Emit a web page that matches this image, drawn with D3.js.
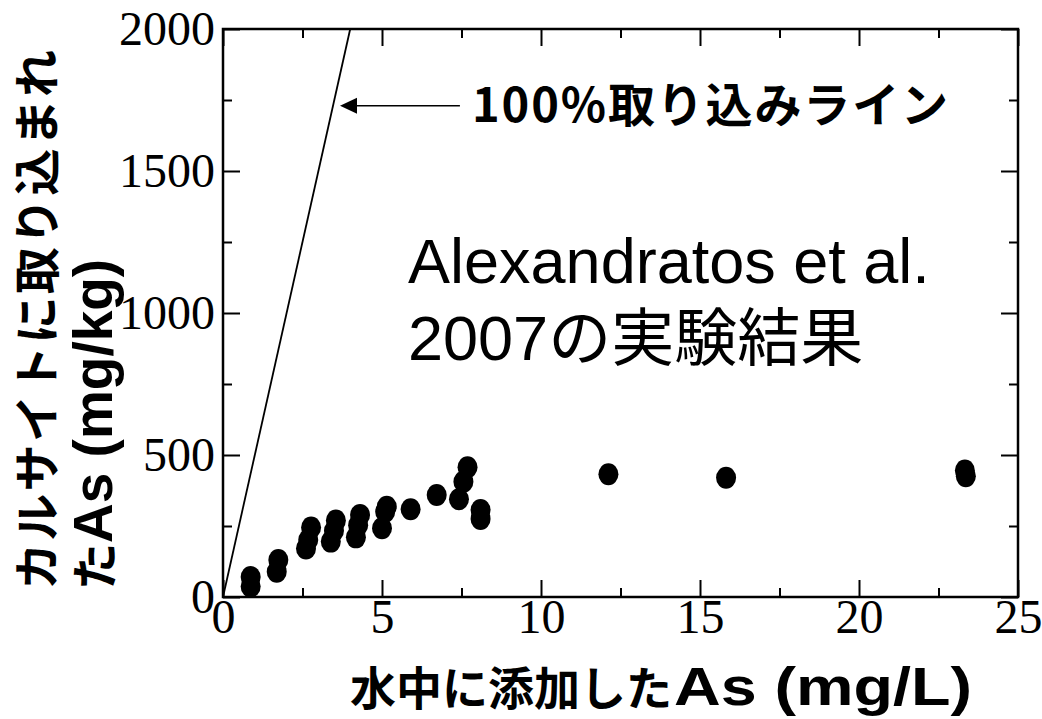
<!DOCTYPE html>
<html>
<head>
<meta charset="utf-8">
<script src="https://cdn.jsdelivr.net/npm/d3@7"></script>
<style>
  body { margin: 0; background: #fff; }
  svg { display: block; }
</style>
</head>
<body>
<svg></svg>
<script>
// data (x = mg/L added, y = mg/kg taken up)
var asAdded = [0.87, 0.87, 1.74, 1.69, 2.77, 2.68, 2.61, 3.55, 3.49, 3.39,
               4.31, 4.25, 4.18, 5.15, 5.1, 5.0, 5.9, 6.72, 7.69, 7.56, 7.42,
               8.1, 8.1, 12.12, 15.82, 23.33, 23.36];
var asCalcite = [70, 37, 130, 89, 245, 201, 171, 269, 233, 195,
                 289, 253, 210, 318, 300, 242, 309, 359, 457, 406, 344,
                 306, 275, 432, 420, 445, 425];
var xMajor = [0, 5, 10, 15, 20, 25];
var xMinor = [2.5, 7.5, 12.5, 17.5, 22.5];
var yMajor = [0, 500, 1000, 1500, 2000];
var yMinor = [250, 750, 1250, 1750];
// 100% uptake line: 500 mg/kg per mg/L
var fullLine = [[0, 0], [4, 2000]];

var width = 1042;
var height = 719;

var svg = d3.select("svg")
    .attr("width", width)
    .attr("height", height);

var x = d3.scaleLinear().domain([0, 25]).range([223, 1018]);
var y = d3.scaleLinear().domain([0, 2000]).range([597, 29]);

var serif = "'Liberation Serif', 'Times New Roman', serif";
var sans = "'Liberation Sans', Arial, 'Noto Sans CJK JP', sans-serif";
var jp = "'Noto Sans CJK JP', sans-serif";

function styleAxis(g) {
    g.select(".domain").remove();
    g.selectAll(".tick line").attr("stroke", "#000").attr("stroke-width", 2);
    g.selectAll(".tick text")
        .attr("fill", "#000")
        .style("font-family", serif)
        .style("font-size", "48px");
}

// major + minor ticks on all four sides, pointing inward
svg.append("g").attr("transform", "translate(0," + y(0) + ")")
    .call(d3.axisBottom(x).tickValues(xMajor).tickSize(-17).tickPadding(2).tickFormat(d3.format("d")))
    .call(styleAxis);
svg.append("g").attr("transform", "translate(0," + y(0) + ")")
    .call(d3.axisBottom(x).tickValues(xMinor).tickSize(-9).tickFormat(""))
    .call(styleAxis);
svg.append("g").attr("transform", "translate(0," + y(2000) + ")")
    .call(d3.axisTop(x).tickValues(xMajor).tickSize(-17).tickFormat(""))
    .call(styleAxis);
svg.append("g").attr("transform", "translate(0," + y(2000) + ")")
    .call(d3.axisTop(x).tickValues(xMinor).tickSize(-9).tickFormat(""))
    .call(styleAxis);
svg.append("g").attr("transform", "translate(" + x(0) + ",0)")
    .call(d3.axisLeft(y).tickValues(yMajor).tickSize(-17).tickPadding(8).tickFormat(d3.format("d")))
    .call(styleAxis);
svg.append("g").attr("transform", "translate(" + x(0) + ",0)")
    .call(d3.axisLeft(y).tickValues(yMinor).tickSize(-9).tickFormat(""))
    .call(styleAxis);
svg.append("g").attr("transform", "translate(" + x(25) + ",0)")
    .call(d3.axisRight(y).tickValues(yMajor).tickSize(-17).tickFormat(""))
    .call(styleAxis);
svg.append("g").attr("transform", "translate(" + x(25) + ",0)")
    .call(d3.axisRight(y).tickValues(yMinor).tickSize(-9).tickFormat(""))
    .call(styleAxis);

// frame
svg.append("rect")
    .attr("x", x(0)).attr("y", y(2000))
    .attr("width", x(25) - x(0)).attr("height", y(0) - y(2000))
    .attr("fill", "none").attr("stroke", "#000").attr("stroke-width", 2.5);

// 100% line
svg.append("path")
    .datum(fullLine)
    .attr("d", d3.line().x(d => x(d[0])).y(d => y(d[1])))
    .attr("fill", "none").attr("stroke", "#000").attr("stroke-width", 1.8);

// arrow pointing at the line
var arrowY = y(1730);
svg.append("line")
    .attr("x1", x(7.45)).attr("y1", arrowY)
    .attr("x2", x(3.9)).attr("y2", arrowY)
    .attr("stroke", "#000").attr("stroke-width", 1.5);
svg.append("path")
    .attr("d", "M" + x(3.68) + "," + arrowY + "l17,-8v16z")
    .attr("fill", "#000");

svg.append("text")
    .attr("x", x(7.83)).attr("y", arrowY + 16)
    .attr("textLength", 476).attr("lengthAdjust", "spacing")
    .style("font-family", jp).style("font-weight", "bold").style("font-size", "47px")
    .text("100%取り込みライン");

// points
svg.append("g").selectAll("ellipse")
    .data(asAdded.map((d, i) => [d, asCalcite[i]]))
    .join("ellipse")
    .attr("cx", d => x(d[0]))
    .attr("cy", d => y(d[1]))
    .attr("rx", 10)
    .attr("ry", 11)
    .attr("fill", "#000");

// inner annotation
svg.append("text")
    .attr("x", 408).attr("y", 283)
    .style("font-family", sans).style("font-size", "63px")
    .text("Alexandratos et al.");
svg.append("text")
    .attr("x", 408).attr("y", 360)
    .style("font-family", sans).style("font-size", "63px")
    .text("2007の実験結果");

// axis titles
var xt1 = svg.append("text")
    .attr("x", 350).attr("y", 705)
    .style("font-family", jp).style("font-weight", "bold").style("font-size", "46px")
    .text("水中に添加した");
var xEnd = 350 + xt1.node().getComputedTextLength();
svg.append("text")
    .attr("x", xEnd + 2).attr("y", 705)
    .attr("textLength", 970 - xEnd).attr("lengthAdjust", "spacingAndGlyphs")
    .style("font-family", sans).style("font-weight", "bold").style("font-size", "53px")
    .text("As (mg/L)");

var yt = svg.append("g").attr("transform", "translate(0,590) rotate(-90)");
yt.append("text")
    .attr("x", 0).attr("y", 54)
    .attr("textLength", 540).attr("lengthAdjust", "spacing")
    .style("font-family", jp).style("font-weight", "bold").style("font-size", "47px")
    .text("カルサイトに取り込まれ");
var yt2 = yt.append("text")
    .attr("x", 0).attr("y", 112)
    .style("font-weight", "bold");
yt2.append("tspan").style("font-family", jp).style("font-size", "47px").text("た");
yt2.append("tspan").style("font-family", sans).style("font-size", "55px").text("As (mg/kg)");
</script>
</body>
</html>
